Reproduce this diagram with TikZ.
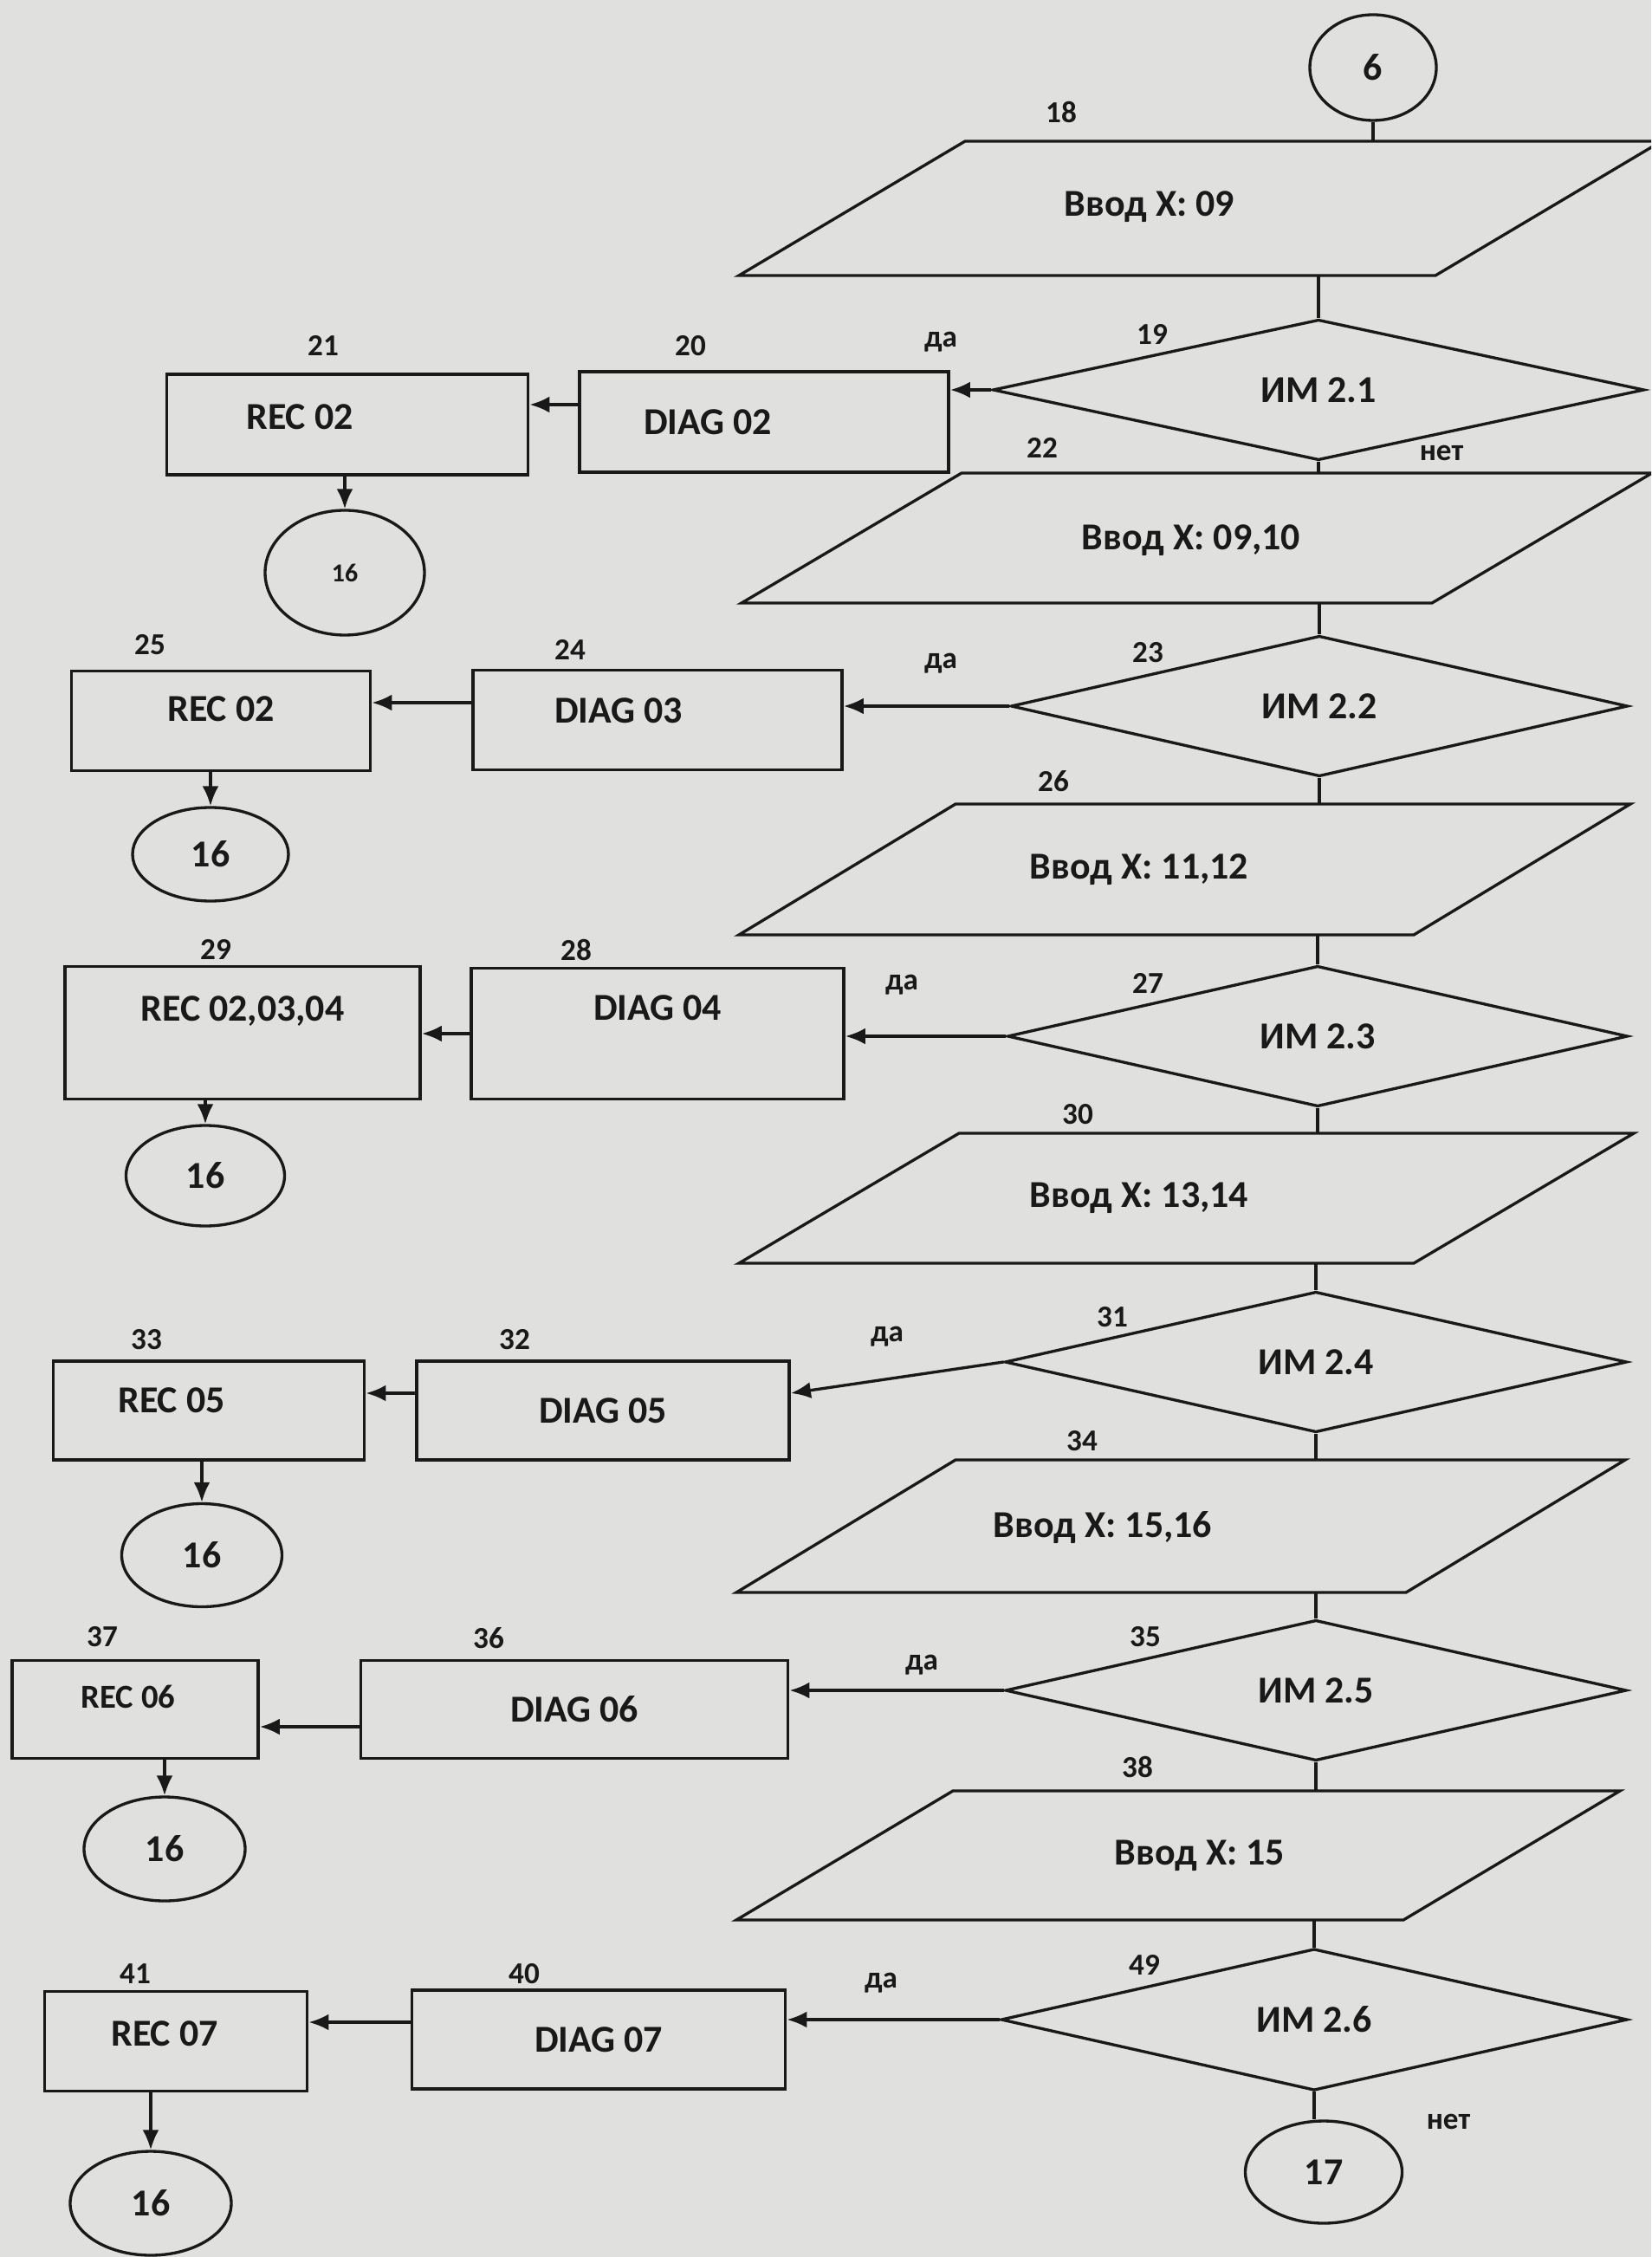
\documentclass[tikz,border=0pt]{standalone}
\usepackage{fontspec}
\setmainfont{Carlito}
\usepackage{xcolor}
\usepackage{tikz}
\usetikzlibrary{arrows.meta,shapes.geometric}

\definecolor{paper}{RGB}{224,224,222}
\definecolor{ink}{RGB}{25,25,25}

\begin{document}
\begin{tikzpicture}[>={Latex[length=2.3mm,width=1.9mm]}, line width=0.95pt, color=ink,
    box/.style={draw, rectangle, inner sep=0pt, line width=1.1pt, font=\fontsize{12.5}{15}\selectfont\bfseries},
    decision/.style={draw, diamond, inner sep=0pt, font=\fontsize{12.5}{15}\selectfont\bfseries},
    term/.style={draw, ellipse, inner sep=0pt, font=\fontsize{12.5}{15}\selectfont\bfseries},
    inp/.style={font=\fontsize{12.5}{15}\selectfont\bfseries},
    num/.style={font=\fontsize{10}{12}\selectfont\bfseries}]
    % page
    \useasboundingbox (0,0) rectangle (19.06,-26.05);
    \fill[paper] (0,0) rectangle (19.06,-26.05);
    \clip (0,0) rectangle (19.06,-26.05);

    \node[term, minimum width=1.46cm, minimum height=1.22cm] (c6) at (15.85,-0.78) {6};

    % 18 / 19
    \coordinate (p18nw) at (11.14,-1.63);
    \coordinate (p18sw) at (8.53,-3.18);
    \draw (p18sw) -- (16.57,-3.18) -- (19.18,-1.63) -- (p18nw) -- cycle;
    \node[inp] (p18) at (13.27,-2.39) {Ввод X: 09};
    \node[num] (n18) at (12.25,-1.30) {18};
    \draw (c6) -- (c6 |- p18nw);
    \node[decision, minimum width=7.52cm, minimum height=1.53cm] (d19) at (15.22,-4.50) {ИМ 2.1};
    \node[num] (n19) at (13.30,-3.86) {19};
    \node[num] (y19) at (10.86,-3.95) {да};
    \node[num] (no19) at (16.64,-5.23) {нет};
    \draw (p18sw -| d19) -- (d19);
    \node[box, minimum width=4.26cm, minimum height=1.16cm] (d20) at (8.82,-4.87) {DIAG 02\kern1.3cm};
    \node[box, minimum width=4.17cm, minimum height=1.16cm, text depth=0.18cm] (r21) at (4.01,-4.90) {REC 02\kern1.1cm};
    \node[term, minimum width=1.84cm, minimum height=1.44cm, font=\fontsize{8.5}{10}\selectfont\bfseries] (c21) at (3.98,-6.61) {16};
    \node[num] (n20) at (7.97,-3.99) {20};
    \node[num] (n21) at (3.73,-3.99) {21};
    \draw[->] (d19.west) -- (d19.west -| d20.east);
    \draw[->] ([yshift=2mm]d20.west) -- ([yshift=2mm]d20.west -| r21.east);
    \draw[->] (r21.south -| c21.north) -- (c21.north);

    % 22 / 23
    \coordinate (p22nw) at (11.10,-5.46);
    \coordinate (p22sw) at (8.56,-6.96);
    \draw (p22sw) -- (16.53,-6.96) -- (19.07,-5.46) -- (p22nw) -- cycle;
    \node[inp] (p22) at (13.75,-6.24) {Ввод X: 09,10};
    \node[num] (n22) at (12.03,-5.17) {22};
    \draw (d19) -- (d19 |- p22nw);
    \node[decision, minimum width=7.12cm, minimum height=1.48cm] (d23) at (15.23,-8.15) {ИМ 2.2};
    \node[num] (n23) at (13.25,-7.53) {23};
    \node[num] (y23) at (10.86,-7.66) {да};
    \draw (p22sw -| d23) -- (d23);
    \node[box, minimum width=4.26cm, minimum height=1.15cm, text depth=0.22cm] (d24) at (7.59,-8.31) {DIAG 03\kern0.9cm};
    \node[box, minimum width=3.45cm, minimum height=1.15cm, text depth=0.28cm] (r25) at (2.55,-8.32) {REC 02};
    \node[term, minimum width=1.80cm, minimum height=1.08cm] (c25) at (2.43,-9.86) {16};
    \node[num] (n24) at (6.58,-7.50) {24};
    \node[num] (n25) at (1.73,-7.44) {25};
    \draw[->] (d23.west) -- (d23.west -| d24.east);
    \draw[->] ([yshift=2mm]d24.west) -- ([yshift=2mm]d24.west -| r25.east);
    \draw[->] (r25.south -| c25.north) -- (c25.north);

    % 26 / 27
    \coordinate (p26nw) at (11.03,-9.28);
    \coordinate (p26sw) at (8.53,-10.79);
    \draw (p26sw) -- (16.32,-10.79) -- (18.82,-9.28) -- (p26nw) -- cycle;
    \node[inp] (p26) at (13.15,-10.04) {Ввод X: 11,12};
    \node[num] (n26) at (12.16,-9.02) {26};
    \draw (d23) -- (d23 |- p26nw);
    \node[decision, minimum width=7.16cm, minimum height=1.45cm] (d27) at (15.21,-11.96) {ИМ 2.3};
    \node[num] (n27) at (13.25,-11.35) {27};
    \node[num] (y27) at (10.41,-11.37) {да};
    \draw (p26sw -| d27) -- (d27);
    \node[box, minimum width=4.30cm, minimum height=1.51cm, text depth=0.6cm] (d28) at (7.59,-11.93) {DIAG 04};
    \node[box, minimum width=4.10cm, minimum height=1.53cm, text depth=0.56cm] (r29) at (2.80,-11.92) {REC 02,03,04};
    \node[term, minimum width=1.83cm, minimum height=1.16cm] (c29) at (2.37,-13.57) {16};
    \node[num] (n28) at (6.65,-10.96) {28};
    \node[num] (n29) at (2.49,-10.96) {29};
    \draw[->] (d27.west) -- (d27.west -| d28.east);
    \draw[->] (d28.west) -- (d28.west -| r29.east);
    \draw[->] (r29.south -| c29.north) -- (c29.north);

    % 30 / 31
    \coordinate (p30nw) at (11.07,-13.08);
    \coordinate (p30sw) at (8.53,-14.58);
    \draw (p30sw) -- (16.32,-14.58) -- (18.86,-13.08) -- (p30nw) -- cycle;
    \node[inp] (p30) at (13.15,-13.83) {Ввод X: 13,14};
    \node[num] (n30) at (12.44,-12.86) {30};
    \draw (d27) -- (d27 |- p30nw);
    \node[decision, minimum width=7.18cm, minimum height=1.47cm] (d31) at (15.19,-15.72) {ИМ 2.4};
    \node[num] (n31) at (12.84,-15.20) {31};
    \node[num] (y31) at (10.24,-15.43) {да};
    \draw (p30sw -| d31) -- (d31);
    \node[box, minimum width=4.30cm, minimum height=1.14cm] (d32) at (6.96,-16.28) {DIAG 05};
    \node[box, minimum width=3.59cm, minimum height=1.14cm, text depth=0.24cm] (r33) at (2.41,-16.28) {REC 05\kern0.86cm};
    \node[term, minimum width=1.85cm, minimum height=1.19cm] (c33) at (2.33,-17.95) {16};
    \node[num] (n32) at (5.94,-15.46) {32};
    \node[num] (n33) at (1.69,-15.46) {33};
    \draw[->] (d31.west) -- ([yshift=2mm]d32.east);
    \draw[->] ([yshift=2mm]d32.west) -- ([yshift=2mm]d32.west -| r33.east);
    \draw[->] (r33.south -| c33.north) -- (c33.north);

    % 34 / 35
    \coordinate (p34nw) at (11.03,-16.85);
    \coordinate (p34sw) at (8.50,-18.38);
    \draw (p34sw) -- (16.23,-18.38) -- (18.76,-16.85) -- (p34nw) -- cycle;
    \node[inp] (p34) at (12.73,-17.63) {Ввод X: 15,16};
    \node[num] (n34) at (12.49,-16.63) {34};
    \draw (d31) -- (d31 |- p34nw);
    \node[decision, minimum width=7.17cm, minimum height=1.48cm] (d35) at (15.19,-19.51) {ИМ 2.5};
    \node[num] (n35) at (13.22,-18.89) {35};
    \node[num] (y35) at (10.64,-19.22) {да};
    \draw (p34sw -| d35) -- (d35);
    \node[box, minimum width=4.93cm, minimum height=1.13cm] (d36) at (6.63,-19.73) {DIAG 06};
    \node[box, minimum width=2.84cm, minimum height=1.13cm, text depth=0.3cm, font=\fontsize{11}{13}\selectfont\bfseries] (r37) at (1.56,-19.73) {REC 06\kern0.16cm};
    \node[term, minimum width=1.86cm, minimum height=1.20cm] (c37) at (1.90,-21.34) {16};
    \node[num] (n36) at (5.64,-18.91) {36};
    \node[num] (n37) at (1.18,-18.89) {37};
    \draw[->] (d35.west) -- (d35.west -| d36.east);
    \draw[->] ([yshift=-2mm]d36.west) -- ([yshift=-2mm]d36.west -| r37.east);
    \draw[->] (r37.south -| c37.north) -- (c37.north);

    % 38 / 49
    \coordinate (p38nw) at (11.00,-20.67);
    \coordinate (p38sw) at (8.50,-22.16);
    \draw (p38sw) -- (16.20,-22.16) -- (18.70,-20.67) -- (p38nw) -- cycle;
    \node[inp] (p38) at (13.85,-21.42) {Ввод X: 15};
    \node[num] (n38) at (13.13,-20.39) {38};
    \draw (d35) -- (d35 |- p38nw);
    \node[decision, minimum width=7.23cm, minimum height=1.49cm] (d49) at (15.17,-23.31) {ИМ 2.6};
    \node[num] (n49) at (13.21,-22.68) {49};
    \node[num] (y49) at (10.17,-22.89) {да};
    \node[num] (no49) at (16.72,-24.49) {нет};
    \draw (p38sw -| d49) -- (d49);
    \node[box, minimum width=4.31cm, minimum height=1.14cm] (d40) at (6.91,-23.54) {DIAG 07};
    \node[box, minimum width=3.03cm, minimum height=1.15cm, text depth=0.18cm] (r41) at (2.03,-23.56) {REC 07\kern0.26cm};
    \node[term, minimum width=1.86cm, minimum height=1.20cm] (c41) at (1.74,-25.43) {16};
    \node[num] (n40) at (6.05,-22.78) {40};
    \node[num] (n41) at (1.56,-22.78) {41};
    \draw[->] (d49.west) -- (d49.west -| d40.east);
    \draw[->] ([yshift=2mm]d40.west) -- ([yshift=2mm]d40.west -| r41.east);
    \draw[->] (r41.south -| c41.north) -- (c41.north);
    \node[term, minimum width=1.81cm, minimum height=1.18cm] (c17) at (15.28,-25.07) {17};
    \draw (d49.south) -- (d49.south |- c17.north);
\end{tikzpicture}
\end{document}
